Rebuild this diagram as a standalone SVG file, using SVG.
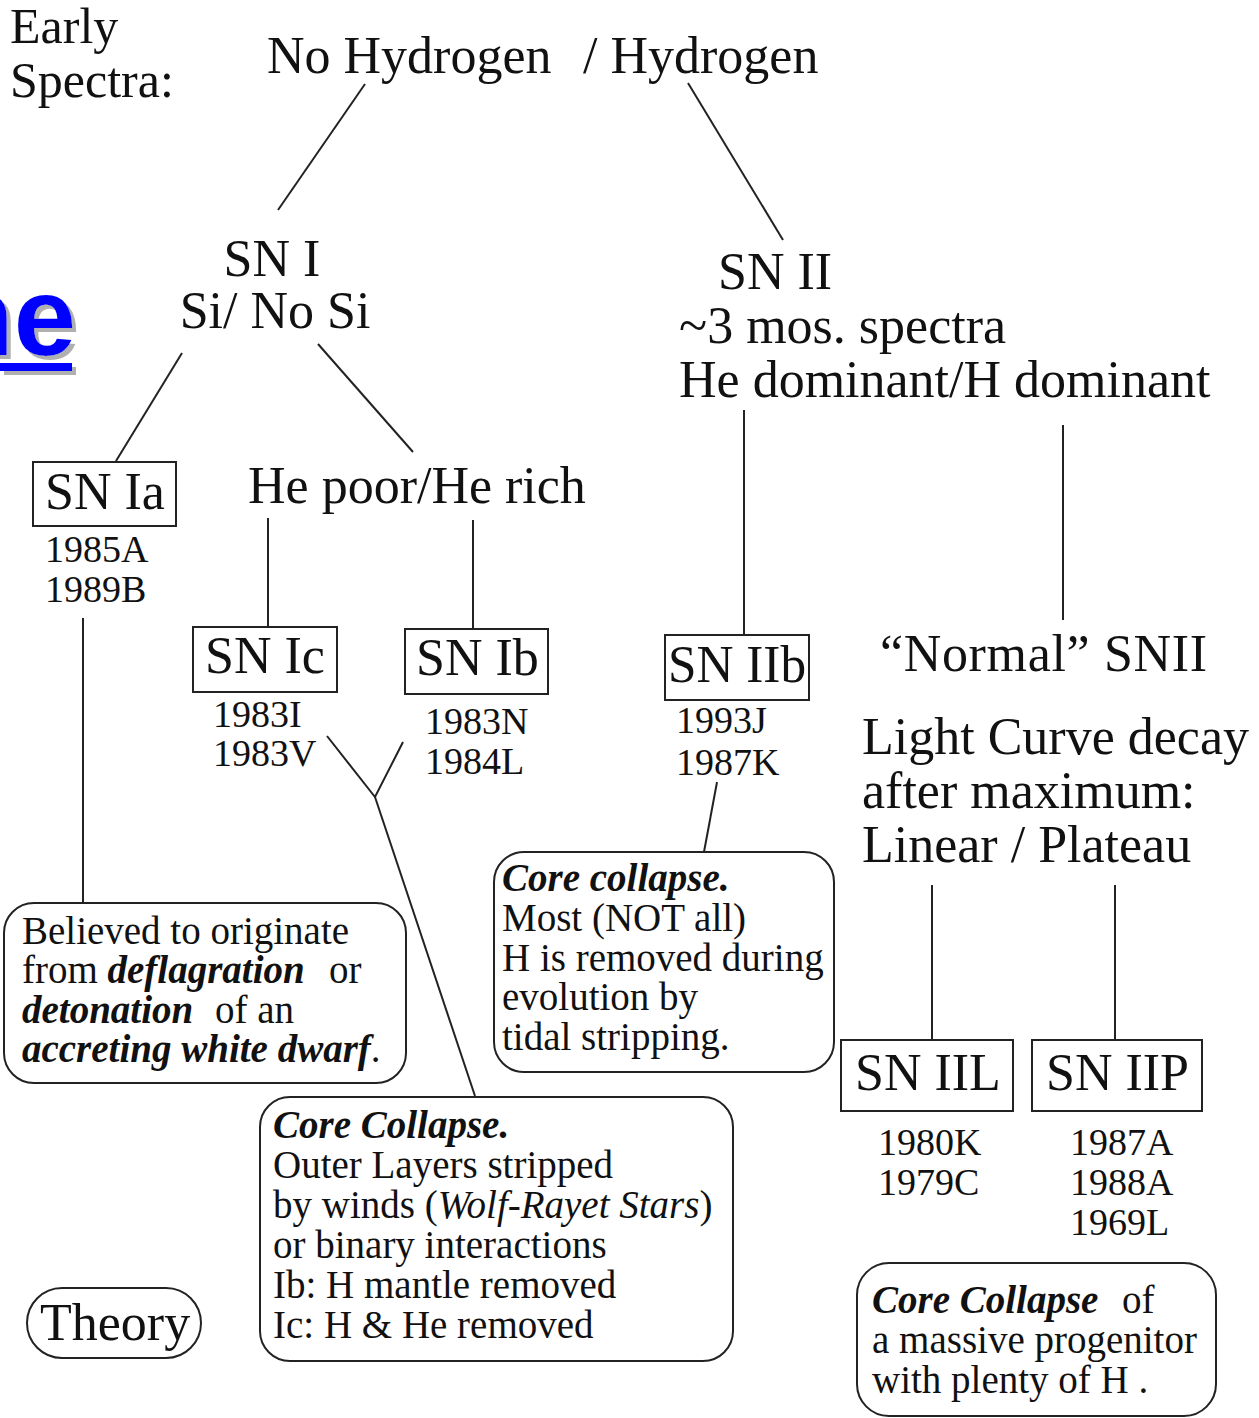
<svg xmlns="http://www.w3.org/2000/svg" width="1259" height="1418" viewBox="0 0 1259 1418">
<style>
.t{font-family:"Liberation Serif","Times New Roman",serif;fill:#111}
.big{font-size:52px}
.hd{font-size:50px}
.med{font-size:39px}
.dt{font-size:38px}
.bi{font-weight:bold;font-style:italic}
.it{font-style:italic}
.ln{stroke:#222;stroke-width:2;fill:none}
.box{fill:#fff;stroke:#222;stroke-width:2}
.lk{font-family:"Liberation Sans",Arial,sans-serif;font-weight:bold;font-size:112px;fill:#0000ff}
</style>
<defs>
  <filter id="shadow" x="-20%" y="-20%" width="160%" height="160%">
    <feDropShadow dx="4" dy="4" stdDeviation="0.6" flood-color="#b0b0b0" flood-opacity="1"/>
  </filter>
</defs>
<rect width="1259" height="1418" fill="#fff"/>

<g id="link-fragment" filter="url(#shadow)">
  <text class="lk" x="76" y="355" text-anchor="end">ne</text>
  <rect x="0" y="363" width="72" height="8" fill="#0000ff"/>
</g>

<g id="connectors">
  <line class="ln" x1="365" y1="84" x2="278" y2="210"/>
  <line class="ln" x1="688" y1="83" x2="783" y2="240"/>
  <line class="ln" x1="182" y1="353" x2="116" y2="461"/>
  <line class="ln" x1="318" y1="344" x2="413" y2="452"/>
  <line class="ln" x1="268" y1="518" x2="268" y2="627"/>
  <line class="ln" x1="473" y1="520" x2="473" y2="629"/>
  <line class="ln" x1="83" y1="618" x2="83" y2="903"/>
  <polyline class="ln" points="327,736 375,797 403,742"/>
  <line class="ln" x1="375" y1="797" x2="475" y2="1096"/>
  <line class="ln" x1="744" y1="410" x2="744" y2="635"/>
  <line class="ln" x1="1063" y1="425" x2="1063" y2="620"/>
  <line class="ln" x1="717" y1="782" x2="704" y2="852"/>
  <line class="ln" x1="932" y1="885" x2="932" y2="1040"/>
  <line class="ln" x1="1115" y1="885" x2="1115" y2="1040"/>
</g>

<g id="early-spectra">
  <text class="t hd" x="10" y="43">Early</text>
  <text class="t hd" x="10" y="97">Spectra:</text>
</g>

<g id="hydrogen">
  <text class="t big" x="267" y="73">No Hydrogen</text>
  <text class="t big" x="583" y="73">/ Hydrogen</text>
</g>

<g id="sn-i">
  <text class="t big" x="272" y="276" text-anchor="middle">SN I</text>
  <text class="t big" x="275" y="328" text-anchor="middle">Si/ No Si</text>
</g>

<g id="sn-ii">
  <text class="t big" x="718" y="289">SN II</text>
  <text class="t big" x="679" y="343">~3 mos. spectra</text>
  <text class="t big" x="679" y="397">He dominant/H dominant</text>
</g>

<g id="sn-ia">
  <rect class="box" x="33" y="462" width="143" height="64"/>
  <text class="t big" x="45" y="509">SN Ia</text>
  <text class="t dt" x="45" y="562">1985A</text>
  <text class="t dt" x="45" y="602">1989B</text>
</g>

<g id="he-poor-rich">
  <text class="t big" x="248" y="503">He poor/He rich</text>
</g>

<g id="sn-ic">
  <rect class="box" x="193" y="627" width="144" height="65"/>
  <text class="t big" x="205" y="673">SN Ic</text>
  <text class="t dt" x="213" y="727">1983I</text>
  <text class="t dt" x="213" y="766">1983V</text>
</g>

<g id="sn-ib">
  <rect class="box" x="405" y="629" width="143" height="65"/>
  <text class="t big" x="416" y="675">SN Ib</text>
  <text class="t dt" x="425" y="734">1983N</text>
  <text class="t dt" x="425" y="774">1984L</text>
</g>

<g id="sn-iib">
  <rect class="box" x="665" y="635" width="144" height="65"/>
  <text class="t big" x="668" y="682" textLength="138" lengthAdjust="spacingAndGlyphs">SN IIb</text>
  <text class="t dt" x="676" y="733">1993J</text>
  <text class="t dt" x="676" y="775">1987K</text>
</g>

<g id="normal-snii">
  <text class="t big" x="880" y="671" textLength="327">“Normal” SNII</text>
  <text class="t big" x="862" y="754">Light Curve decay</text>
  <text class="t big" x="862" y="808">after maximum:</text>
  <text class="t big" x="862" y="862">Linear / Plateau</text>
</g>

<g id="sn-iil">
  <rect class="box" x="841" y="1040" width="172" height="71"/>
  <text class="t big" x="855" y="1090">SN IIL</text>
  <text class="t dt" x="878" y="1155">1980K</text>
  <text class="t dt" x="878" y="1195">1979C</text>
</g>

<g id="sn-iip">
  <rect class="box" x="1032" y="1040" width="170" height="71"/>
  <text class="t big" x="1046" y="1090">SN IIP</text>
  <text class="t dt" x="1070" y="1155">1987A</text>
  <text class="t dt" x="1070" y="1195">1988A</text>
  <text class="t dt" x="1070" y="1235">1969L</text>
</g>

<g id="theory-ia">
  <rect class="box" x="4" y="903" width="402" height="180" rx="30" ry="30"/>
  <text class="t med" x="22" y="944">Believed to originate</text>
  <text class="t med" x="22" y="983">from <tspan class="bi">deflagration</tspan><tspan x="329">or</tspan></text>
  <text class="t med" x="22" y="1023"><tspan class="bi">detonation</tspan><tspan x="215">of an</tspan></text>
  <text class="t med" x="22" y="1062"><tspan class="bi">accreting white dwarf</tspan>.</text>
</g>

<g id="theory-ibc">
  <rect class="box" x="260" y="1097" width="473" height="264" rx="30" ry="30"/>
  <text class="t med" x="273" y="1138"><tspan class="bi">Core Collapse.</tspan></text>
  <text class="t med" x="273" y="1178">Outer Layers stripped</text>
  <text class="t med" x="273" y="1218">by winds (<tspan class="it">Wolf-Rayet Stars</tspan>)</text>
  <text class="t med" x="273" y="1258">or binary interactions</text>
  <text class="t med" x="273" y="1298">Ib: H mantle removed</text>
  <text class="t med" x="273" y="1338">Ic: H &amp; He removed</text>
</g>

<g id="theory-iib">
  <rect class="box" x="494" y="852" width="340" height="220" rx="30" ry="30"/>
  <text class="t med" x="502" y="891"><tspan class="bi">Core collapse.</tspan></text>
  <text class="t med" x="502" y="931">Most (NOT all)</text>
  <text class="t med" x="502" y="971">H is removed during</text>
  <text class="t med" x="502" y="1010">evolution by</text>
  <text class="t med" x="502" y="1050">tidal stripping.</text>
</g>

<g id="theory-ii">
  <rect class="box" x="857" y="1263" width="359" height="153" rx="32" ry="32"/>
  <text class="t med" x="872" y="1313"><tspan class="bi">Core Collapse</tspan><tspan x="1122">of</tspan></text>
  <text class="t med" x="872" y="1353">a massive progenitor</text>
  <text class="t med" x="872" y="1393">with plenty of H .</text>
</g>

<g id="theory-label">
  <rect class="box" x="27" y="1288" width="174" height="70" rx="35" ry="35"/>
  <text class="t big" x="40" y="1340">Theory</text>
</g>
</svg>
